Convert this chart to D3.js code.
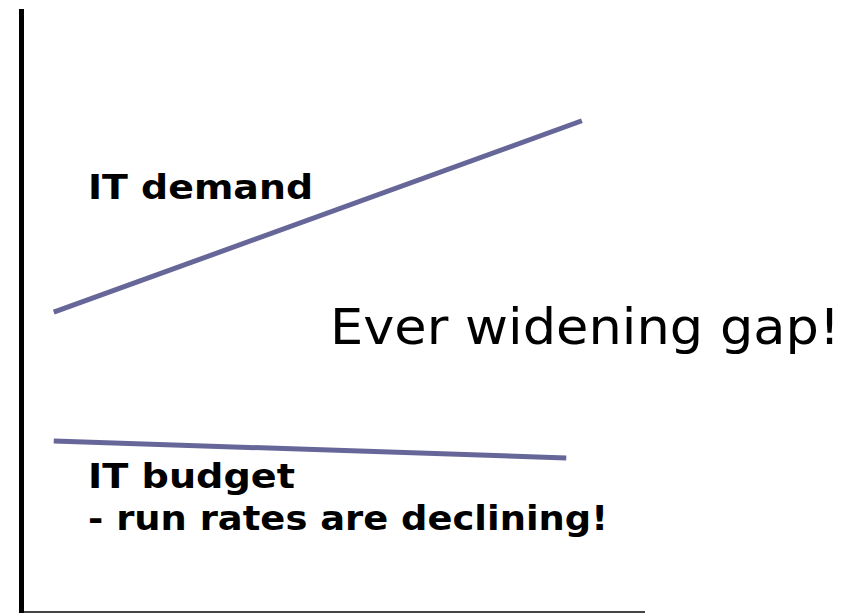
<!DOCTYPE html>
<html>
<head>
<meta charset="utf-8">
<title>IT demand vs IT budget</title>
<style>
  body { margin: 0; background: #fff; }
  svg text { font-family: "DejaVu Sans", Verdana, sans-serif; fill: #000; }
</style>
</head>
<body>
<div id="chart"></div>
<script src="https://d3js.org/d3.v7.min.js"></script>
<script>
// data: two trend lines (x = time 0..100, y = level 0..100)
var demandX = [5.4, 89.9];
var demandY = [49.8, 81.6];
var budgetX = [5.4, 87.4];
var budgetY = [28.4, 25.6];

var labelDemand = "IT demand";
var labelBudget = ["IT budget", "- run rates are declining!"];
var labelGap = "Ever widening gap!";

var width = 856, height = 615;

var svg = d3.select("#chart")
  .append("svg")
  .attr("width", width)
  .attr("height", height);

var x = d3.scaleLinear().domain([0, 100]).range([20, 645]);
var y = d3.scaleLinear().domain([0, 100]).range([612, 10]);

// axes (plain lines, no ticks)
svg.append("line")
  .attr("x1", x(0)).attr("x2", x(100))
  .attr("y1", y(0)).attr("y2", y(0))
  .attr("stroke", "#444").attr("stroke-width", 2);

svg.append("line")
  .attr("x1", x(0) + 1.5).attr("x2", x(0) + 1.5)
  .attr("y1", y(100) - 1).attr("y2", y(0) + 1)
  .attr("stroke", "#000").attr("stroke-width", 5);

var line = d3.line()
  .x(function(d) { return x(d[0]); })
  .y(function(d) { return y(d[1]); });

var series = [d3.zip(demandX, demandY), d3.zip(budgetX, budgetY)];

svg.selectAll("path.trend")
  .data(series)
  .enter()
  .append("path")
  .attr("class", "trend")
  .attr("d", line)
  .attr("fill", "none")
  .attr("stroke", "#666699")
  .attr("stroke-width", 5);

// labels (stretched to the wider Verdana widths of the original)
svg.append("text")
  .attr("x", 88).attr("y", 199)
  .attr("font-size", 33).attr("font-weight", "bold")
  .attr("textLength", 225).attr("lengthAdjust", "spacingAndGlyphs")
  .text(labelDemand);

var budgetLen = [207, 520];
svg.selectAll("text.budget")
  .data(labelBudget)
  .enter()
  .append("text")
  .attr("class", "budget")
  .attr("x", 88)
  .attr("y", function(d, i) { return 488 + i * 42; })
  .attr("font-size", 33).attr("font-weight", "bold")
  .attr("textLength", function(d, i) { return budgetLen[i]; })
  .attr("lengthAdjust", "spacingAndGlyphs")
  .text(function(d) { return d; });

svg.append("text")
  .attr("x", 330).attr("y", 344)
  .attr("font-size", 49)
  .attr("textLength", 510).attr("lengthAdjust", "spacingAndGlyphs")
  .text(labelGap);
</script>
</body>
</html>
